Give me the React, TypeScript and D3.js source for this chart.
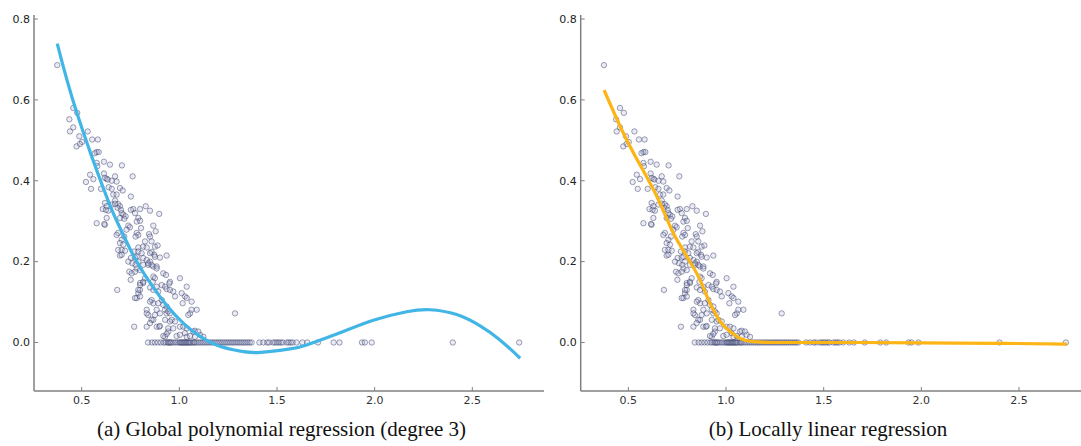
import React from "react";
import * as d3 from "d3";

// ---- data ----
const xTicks = [0.5, 1.0, 1.5, 2.0, 2.5];
const yTicks = [0.0, 0.2, 0.4, 0.6, 0.8];

const scatterPoints: [number, number][] = [
  [0.375, 0.686], [0.457, 0.58], [0.477, 0.568], [0.437, 0.552], [0.457, 0.532], [0.44, 0.522],
  [0.531, 0.522], [0.488, 0.51], [0.554, 0.502], [0.583, 0.502], [0.502, 0.496], [0.491, 0.491],
  [0.474, 0.485], [0.577, 0.471], [0.587, 0.471], [0.567, 0.468], [0.577, 0.444], [0.58, 0.436],
  [0.614, 0.447], [0.645, 0.44], [0.706, 0.438], [0.543, 0.415], [0.56, 0.404], [0.522, 0.397],
  [0.614, 0.418], [0.628, 0.405], [0.654, 0.4], [0.671, 0.411], [0.679, 0.398], [0.761, 0.411],
  [0.548, 0.38], [0.599, 0.38], [0.638, 0.384], [0.654, 0.38], [0.696, 0.382], [0.71, 0.376],
  [0.662, 0.366], [0.679, 0.366], [0.752, 0.361], [0.619, 0.407], [0.633, 0.403],
  [0.671, 0.351], [0.687, 0.342], [0.696, 0.337], [0.684, 0.333], [0.701, 0.328], [0.619, 0.345],
  [0.628, 0.337], [0.636, 0.326], [0.828, 0.337], [0.85, 0.326], [0.799, 0.33], [0.764, 0.33],
  [0.752, 0.328], [0.897, 0.318], [0.705, 0.32], [0.713, 0.316], [0.725, 0.312], [0.696, 0.308],
  [0.718, 0.306], [0.773, 0.32], [0.79, 0.308], [0.782, 0.299], [0.799, 0.301], [0.628, 0.308],
  [0.619, 0.291], [0.739, 0.289], [0.747, 0.285], [0.73, 0.279], [0.804, 0.283], [0.867, 0.289],
  [0.879, 0.275], [0.687, 0.271], [0.679, 0.266], [0.782, 0.271], [0.79, 0.266], [0.776, 0.262],
  [0.845, 0.268], [0.85, 0.262], [0.718, 0.262], [0.705, 0.254], [0.824, 0.25], [0.858, 0.25],
  [0.875, 0.237], [0.889, 0.24], [0.696, 0.246], [0.713, 0.242], [0.79, 0.235], [0.815, 0.237],
  [0.833, 0.235], [0.687, 0.229], [0.705, 0.229], [0.722, 0.227], [0.858, 0.224], [0.872, 0.217],
  [0.769, 0.225], [0.696, 0.215], [0.752, 0.209], [0.773, 0.21], [0.901, 0.21], [0.935, 0.215],
  [0.79, 0.2], [0.815, 0.192], [0.841, 0.192], [0.867, 0.188], [0.884, 0.188], [0.759, 0.196],
  [0.776, 0.192], [0.85, 0.2], [0.577, 0.295], [0.616, 0.293], [0.608, 0.33], [0.624, 0.328],
  [0.654, 0.341], [0.671, 0.343], [0.682, 0.13], [0.705, 0.217], [0.744, 0.175], [0.751, 0.155],
  [0.739, 0.2], [0.769, 0.039], [0.782, 0.11], [0.79, 0.122], [0.799, 0.13], [0.815, 0.147],
  [0.799, 0.147], [0.833, 0.039], [0.833, 0.081], [0.841, 0.068], [0.858, 0.105], [0.867, 0.097],
  [0.867, 0.056], [0.884, 0.039], [0.897, 0.039], [0.901, 0.072], [0.927, 0.081], [0.935, 0.072],
  [0.927, 0.014], [0.943, 0.027], [0.952, 0.052], [0.969, 0.035], [1.003, 0.159], [1.012, 0.122],
  [1.029, 0.114], [1.017, 0.097], [1.038, 0.138], [1.063, 0.101], [1.055, 0.072], [1.063, 0.081],
  [1.089, 0.081], [1.003, 0.039], [1.029, 0.023], [1.038, 0.014], [1.071, 0.027], [1.08, 0.014],
  [1.106, 0.019], [1.123, 0.014], [1.285, 0.072], [0.782, 0.212], [0.79, 0.225], [0.807, 0.221],
  [0.815, 0.209], [0.833, 0.204], [0.85, 0.221], [0.875, 0.212], [0.841, 0.196], [0.858, 0.192],
  [0.884, 0.183], [0.782, 0.183], [0.799, 0.179], [0.773, 0.175], [0.756, 0.171], [0.918, 0.171],
  [0.932, 0.167], [0.867, 0.163], [0.875, 0.159], [0.864, 0.15], [0.824, 0.159], [0.815, 0.15],
  [0.799, 0.142], [0.952, 0.15], [0.949, 0.146], [0.91, 0.142], [0.927, 0.138], [0.935, 0.132],
  [0.952, 0.13], [0.969, 0.126], [0.884, 0.138], [0.85, 0.136], [0.867, 0.13], [0.892, 0.126],
  [0.79, 0.13], [0.773, 0.11], [0.799, 0.114], [1.038, 0.11], [0.85, 0.101], [0.91, 0.105],
  [0.892, 0.097], [0.918, 0.093], [0.978, 0.114], [0.935, 0.089], [0.943, 0.077], [0.952, 0.072],
  [0.884, 0.081], [0.833, 0.072], [0.875, 0.068], [1.046, 0.068], [0.858, 0.056], [0.85, 0.048],
  [0.927, 0.056], [0.961, 0.056], [0.978, 0.052], [0.901, 0.041], [0.943, 0.035], [1.02, 0.039],
  [1.038, 0.035], [1.08, 0.029], [1.097, 0.027], [0.935, 0.021], [0.918, 0.016], [0.986, 0.016],
  [1.003, 0.019], [1.055, 0.016],
];

const zeroRowX = [
  0.84, 0.86, 0.875, 0.89, 0.905, 0.92, 0.93, 0.94, 0.945, 0.95, 0.955, 0.96, 0.97, 0.98, 0.99,
  1.0, 1.005, 1.01, 1.015, 1.02, 1.025, 1.03, 1.035, 1.04, 1.045, 1.05, 1.055, 1.06, 1.07, 1.075,
  1.08, 1.09, 1.1, 1.11, 1.12, 1.13, 1.14, 1.15, 1.16, 1.17, 1.18, 1.19, 1.2, 1.21, 1.22, 1.23,
  1.24, 1.25, 1.26, 1.27, 1.28, 1.29, 1.3, 1.31, 1.32, 1.33, 1.34, 1.35, 1.36, 1.37, 1.41, 1.43,
  1.45, 1.46, 1.48, 1.49, 1.5, 1.51, 1.52, 1.53, 1.55, 1.56, 1.57, 1.58, 1.6, 1.63, 1.655, 1.71,
  1.79, 1.82, 1.935, 1.95, 1.985, 2.4, 2.74,
];

const polyFitX = [0.375, 0.474, 0.628, 0.696, 0.764, 0.85, 0.935, 1.02, 1.106, 1.19, 1.276, 1.4,
  1.567, 1.652, 1.823, 1.993, 2.164, 2.283, 2.42, 2.54, 2.64, 2.745];
const polyFitY = [0.739, 0.57, 0.36, 0.284, 0.216, 0.148, 0.092, 0.048, 0.015, -0.006, -0.018,
  -0.025, -0.016, -0.006, 0.024, 0.055, 0.076, 0.081, 0.069, 0.041, 0.007, -0.039];

const localFitX = [0.376, 0.474, 0.654, 0.73, 0.799, 0.867, 0.918, 0.97, 1.021, 1.072, 1.14, 1.243,
  1.6, 2.0, 2.4, 2.745];
const localFitY = [0.624, 0.518, 0.353, 0.271, 0.213, 0.155, 0.097, 0.052, 0.027, 0.01, 0.002, 0.0,
  0.0, -0.001, -0.002, -0.004];

const captions = ["(a) Global polynomial regression (degree 3)", "(b) Locally linear regression"];

// ---- layout ----
const W = 1081;
const H = 446;
const xDomain: [number, number] = [0.256, 2.867];
const yScale = d3.scaleLinear().domain([-0.12, 0.81]).range([391, 15]);

const panels = [
  { x0: 34, x1: 544, color: "#41b6e6", fx: polyFitX, fy: polyFitY, curve: d3.curveNatural, capX: 281.5 },
  { x0: 580.7, x1: 1090.7, color: "#fdb515", fx: localFitX, fy: localFitY, curve: d3.curveMonotoneX, capX: 828 },
];

const fmt = d3.format(".1f");

function Panel({ p, caption }: { p: typeof panels[0]; caption: string }) {
  const x = d3.scaleLinear().domain(xDomain).range([p.x0, p.x1]);
  const yb = yScale(-0.12);
  const yt = yScale(0.81);
  const line = d3
    .line<number>()
    .x((_, i) => x(p.fx[i]))
    .y((_, i) => yScale(p.fy[i]))
    .curve(p.curve);
  const pts: [number, number][] = [
    ...scatterPoints,
    ...zeroRowX.map((v) => [v, 0] as [number, number]),
  ];
  return (
    <g>
      {pts.map((d, i) => (
        <circle
          key={i}
          cx={x(d[0])}
          cy={yScale(d[1])}
          r={2.7}
          fill="rgba(170,175,210,0.25)"
          stroke="rgba(45,50,95,0.45)"
          strokeWidth={1}
        />
      ))}
      <path d={line(p.fx) || ""} fill="none" stroke={p.color} strokeWidth={3.2} strokeLinecap="butt" />
      {/* axes */}
      <line x1={p.x0} x2={p.x0} y1={yt} y2={yb} stroke="#808080" strokeWidth={1.5} />
      <line x1={p.x0} x2={p.x1} y1={yb} y2={yb} stroke="#808080" strokeWidth={1.5} />
      {yTicks.map((t) => (
        <g key={"y" + t}>
          <line x1={p.x0} x2={p.x0 + 4} y1={yScale(t)} y2={yScale(t)} stroke="#808080" strokeWidth={1} />
          <text
            x={p.x0 - 4}
            y={yScale(t)}
            dy="0.35em"
            textAnchor="end"
            fontFamily="DejaVu Sans"
            fontSize={11}
            fill="#222"
          >
            {fmt(t)}
          </text>
        </g>
      ))}
      {xTicks.map((t) => (
        <g key={"x" + t}>
          <line x1={x(t)} x2={x(t)} y1={yb} y2={yb - 4} stroke="#808080" strokeWidth={1} />
          <text
            x={x(t)}
            y={yb + 13}
            textAnchor="middle"
            fontFamily="DejaVu Sans"
            fontSize={11}
            fill="#333"
          >
            {fmt(t)}
          </text>
        </g>
      ))}
      <text
        x={p.capX}
        y={436}
        textAnchor="middle"
        fontFamily="Liberation Serif"
        fontSize={21}
        fill="#111"
      >
        {caption}
      </text>
    </g>
  );
}

export default function App() {
  return (
    <svg
      width={W}
      height={H}
      style={{ position: "absolute", left: 0, top: 0, display: "block", background: "#fff" }}
    >
      <rect width={W} height={H} fill="#fff" />
      {panels.map((p, i) => (
        <Panel key={i} p={p} caption={captions[i]} />
      ))}
    </svg>
  );
}
